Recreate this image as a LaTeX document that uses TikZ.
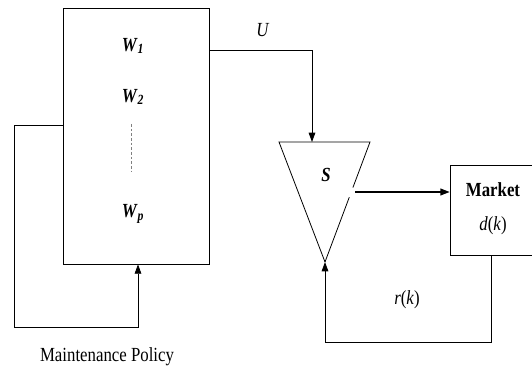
\documentclass[tikz,border=0pt]{standalone}
\usepackage{fontspec}
\setmainfont{Liberation Serif}[FakeStretch=0.84]
\usepackage{tikz}
\usetikzlibrary{arrows.meta,calc}

\newcommand{\wvar}[1]{\textbf{\textit{W}}\textsubscript{\textbf{\textit{#1}}}}

\begin{document}
\begin{tikzpicture}[x=0.75pt,y=-0.75pt,font=\fontsize{15}{17}\selectfont,
    line width=0.6pt,
    arr/.style={-{Triangle[length=7pt,width=5pt]}}]
  \useasboundingbox (0,0) rectangle (532,381);
  % policy block
  \node[draw,minimum width=109.5pt,minimum height=192pt,inner sep=0pt] (policy) at (136,136) {};
  \node (w1) at (133,46) {\wvar{1}};
  \node (w2) at (133,97) {\wvar{2}};
  \node (wp) at (133,214) {\wvar{p}};
  \draw[gray,dashed,dash pattern=on 2pt off 1.5pt] (131,124) -- (131,172);
  \draw[arr] (policy.west |- 0,125) -- (14,125) |- (138,327) -- (policy.south -| 138,0);
  \node (mp) at (107,357) {Maintenance Policy};
  % stock triangle
  \coordinate (tl) at (279,142);
  \coordinate (tr) at (370,142);
  \coordinate (ap) at (325,262);
  \draw (ap) -- (tl) -- (tr) -- ($(tr)!0.38!(ap)$);
  \draw ($(tr)!0.46!(ap)$) -- (ap);
  \node (stock) at (326,175) {\textbf{\textit{S}}};
  \draw[arr] (policy.east |- 0,50) -| (312,142);
  \node (u) at (263,30) {\textit{U}};
  % market
  \node[draw,minimum width=62pt,minimum height=67.5pt,inner sep=0pt] (market) at (491.5,210) {};
  \node (mk) at (493,190) {\textbf{Market}};
  \node (dk) at (493,226) {\textit{d}(\textit{k})};
  \draw[arr,line width=1.3pt] (355,192) -- (market.west |- 0,192);
  \draw[arr] (market.south) |- (325,342) -- (ap);
  \node (rk) at (407,300) {\textit{r}(\textit{k})};
\end{tikzpicture}
\end{document}
